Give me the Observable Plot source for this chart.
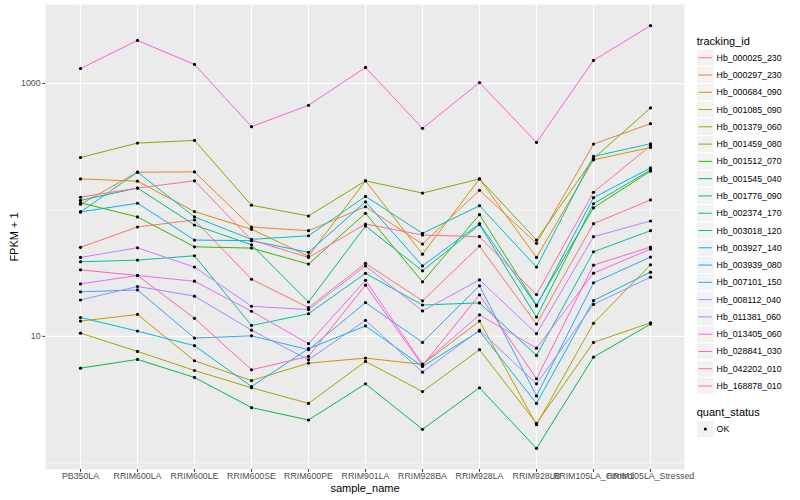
<!DOCTYPE html>
<html>
<head>
<meta charset="utf-8">
<script src="https://cdn.jsdelivr.net/npm/d3@7"></script>
<script src="https://cdn.jsdelivr.net/npm/@observablehq/plot@0.6"></script>
<style>
  html, body { margin: 0; padding: 0; background: #ffffff; }
  #wrap { position: relative; width: 800px; height: 500px; font-family: "Liberation Sans", Arial, Helvetica, sans-serif; }
  #chart { position: absolute; left: 0; top: 0; }
  #legend { position: absolute; left: 690px; top: 0; pointer-events: none; }
  g[aria-label="y-axis label"], g[aria-label="x-axis label"] { font-size: 11px; fill: #000000; }
</style>
</head>
<body>
<div id="wrap"><div id="chart"></div><div id="legend"></div></div>
<script>
const samples = ["PB350LA","RRIM600LA","RRIM600LE","RRIM600SE","RRIM600PE","RRIM901LA","RRIM928BA","RRIM928LA","RRIM928LB","RRIM105LA_Control","RRIM105LA_Stressed"];

const trackingIds = ["Hb_000025_230","Hb_000297_230","Hb_000684_090","Hb_001085_090","Hb_001379_060","Hb_001459_080","Hb_001512_070","Hb_001545_040","Hb_001776_090","Hb_002374_170","Hb_003018_120","Hb_003927_140","Hb_003939_080","Hb_007101_150","Hb_008112_040","Hb_011381_060","Hb_013405_060","Hb_028841_030","Hb_042202_010","Hb_168878_010"];

const idColors = ["#F8766D","#EA8331","#D89000","#C09B00","#A3A500","#7CAE00","#39B600","#00BB4E","#00BF7D","#00C1A3","#00BFC4","#00BAE0","#00B0F6","#35A2FF","#9590FF","#C77CFF","#E76BF3","#FA62DB","#FF62BC","#FF6C91"];

// FPKM + 1 per sample (order of `samples`)
const hb_000025_230 = [50.6, 73.3, 83.3, 28.3, 16.9, 37.8, 19.1, 51.8, 12.5, 77.9, 120];
const hb_000297_230 = [111, 199, 200, 73.3, 68.5, 106, 53.7, 143, 54.4, 332, 481];
const hb_000684_090 = [176, 169, 97, 70.3, 43.1, 170, 44.7, 176, 42.1, 249, 312];
const hb_001085_090 = [13.2, 14.9, 6.41, 4.47, 6.14, 6.73, 6.0, 13.2, 2.0, 12.7, 36.8];
const hb_001379_060 = [10.6, 7.6, 5.37, 3.92, 2.95, 6.33, 3.66, 7.84, 2.05, 8.96, 12.8];
const hb_001459_080 = [260, 338, 355, 109, 89.6, 170, 136, 176, 57.8, 255, 641];
const hb_001512_070 = [114, 88, 51.1, 49.9, 37.3, 94.1, 27.0, 91.8, 17.7, 104, 203];
const hb_001545_040 = [5.6, 6.57, 4.73, 2.73, 2.18, 4.21, 1.84, 3.92, 1.30, 6.85, 12.5];
const hb_001776_090 = [119, 149, 76, 53.0, 18.7, 74.6, 33.0, 76.4, 14.2, 112, 207];
const hb_002374_170 = [38.9, 40.1, 43.4, 12.2, 15.1, 31.5, 17.7, 18.4, 7.07, 46.7, 68.5];
const hb_003018_120 = [96.4, 199, 88, 58.5, 62.5, 128, 65.3, 108, 35.3, 265, 334];
const hb_003927_140 = [14.1, 11.0, 8.44, 4.01, 7.99, 12.1, 5.78, 11.0, 2.95, 19.2, 32.2];
const hb_003939_080 = [96.4, 113, 57.8, 57.1, 46.2, 116, 36.1, 77.9, 17.4, 125, 215];
const hb_007101_150 = [22.5, 23.3, 9.69, 10.1, 7.84, 18.5, 8.96, 25.1, 3.38, 26.5, 42.4];
const hb_008112_040 = [19.4, 24.8, 20.8, 11.2, 6.53, 13.4, 5.21, 11.2, 4.21, 17.9, 29.4];
const hb_011381_060 = [42.1, 50.2, 35.3, 17.3, 16.3, 36.1, 15.9, 28.0, 10.5, 61.4, 81.8];
const hb_013405_060 = [26.0, 30.3, 27.3, 15.8, 8.75, 27.8, 6.03, 14.8, 8.07, 31.6, 49.0];
const hb_028841_030 = [1315, 2193, 1416, 456, 673, 1340, 442, 1018, 342, 1524, 2871];
const hb_042202_010 = [33.6, 30.3, 13.9, 5.44, 6.94, 25.4, 5.89, 21.3, 4.62, 36.6, 50.9];
const hb_168878_010 = [126, 149, 170, 57.8, 42.1, 77.4, 63.3, 61.4, 21.4, 138, 322];

const quantStatus = ["OK"];
const yTicks = [10, 1000];
const yMinor = [1, 100];

const seriesValues = [hb_000025_230, hb_000297_230, hb_000684_090, hb_001085_090, hb_001379_060, hb_001459_080, hb_001512_070, hb_001545_040, hb_001776_090, hb_002374_170, hb_003018_120, hb_003927_140, hb_003939_080, hb_007101_150, hb_008112_040, hb_011381_060, hb_013405_060, hb_028841_030, hb_042202_010, hb_168878_010];

const data = trackingIds.flatMap((id, i) => seriesValues[i].map((v, j) => ({id, sample: samples[j], value: v, status: quantStatus[0]})));

// ggplot-like 5% expansion in log space
const lext = d3.extent(data, d => Math.log10(d.value));
const pad = (lext[1] - lext[0]) * 0.05;
const yDomain = [Math.pow(10, lext[0] - pad), Math.pow(10, lext[1] + pad)];

const chart = Plot.plot({
  width: 800,
  height: 500,
  marginLeft: 45,
  marginRight: 116,
  marginTop: 4,
  marginBottom: 31,
  style: {fontFamily: '"Liberation Sans", Arial, Helvetica, sans-serif', background: "#ffffff", overflow: "visible"},
  x: {type: "point", domain: samples, padding: 0.6},
  y: {type: "log", domain: yDomain},
  color: {domain: trackingIds, range: idColors},
  marks: [
    Plot.frame({fill: "#EBEBEB", stroke: "none"}),
    Plot.ruleY(yMinor, {stroke: "#ffffff", strokeWidth: 0.55}),
    Plot.ruleY(yTicks, {stroke: "#ffffff", strokeWidth: 1.1}),
    Plot.ruleX(samples, {stroke: "#ffffff", strokeWidth: 1.1}),
    Plot.line(data, {x: "sample", y: "value", z: "id", stroke: "id", strokeWidth: 1}),
    Plot.dot(data, {x: "sample", y: "value", r: 1.6, fill: "#000000", stroke: "none"}),
    Plot.axisX({tickSize: 2.7, tickPadding: 0.5, fontSize: 8.8, fill: "#4D4D4D", stroke: "#333333",
      label: "sample_name", labelAnchor: "center", labelOffset: 22, labelArrow: "none"}),
    Plot.axisY({ticks: yTicks, tickFormat: d => String(d), tickSize: 2.7, tickPadding: 2.2, fontSize: 8.8,
      fill: "#4D4D4D", stroke: "#333333", label: "FPKM + 1", labelAnchor: "center", labelOffset: 35, labelArrow: "none"})
  ]
});
document.getElementById("chart").appendChild(chart);

// Legend (ggplot-style, right side)
const lg = d3.select("#legend").append("svg")
  .attr("width", 110).attr("height", 445)
  .style("font-family", '"Liberation Sans", Arial, Helvetica, sans-serif');
const keyX = 6.7, keyW = 17.28, row0 = 57.7;
lg.append("text").attr("x", keyX).attr("y", 40.7).attr("dominant-baseline", "central")
  .attr("font-size", 11).attr("fill", "#000").text("tracking_id");
trackingIds.forEach((id, i) => {
  const cy = row0 + i * keyW;
  lg.append("rect").attr("x", keyX).attr("y", cy - keyW / 2).attr("width", keyW).attr("height", keyW)
    .attr("fill", "#F2F2F2").attr("stroke", "#ffffff").attr("stroke-width", 1);
  lg.append("line").attr("x1", keyX + 1.7).attr("x2", keyX + keyW - 1.7).attr("y1", cy).attr("y2", cy)
    .attr("stroke", idColors[i]).attr("stroke-width", 1);
  lg.append("text").attr("x", keyX + keyW + 2.6).attr("y", cy).attr("dominant-baseline", "central")
    .attr("font-size", 8.8).attr("fill", "#000").text(id);
});
lg.append("text").attr("x", keyX).attr("y", 412.3).attr("dominant-baseline", "central")
  .attr("font-size", 11).attr("fill", "#000").text("quant_status");
quantStatus.forEach((s, i) => {
  const cy = 429 + i * keyW;
  lg.append("rect").attr("x", keyX).attr("y", cy - keyW / 2).attr("width", keyW).attr("height", keyW)
    .attr("fill", "#F2F2F2").attr("stroke", "#ffffff").attr("stroke-width", 1);
  lg.append("circle").attr("cx", keyX + keyW / 2).attr("cy", cy).attr("r", 1.6).attr("fill", "#000");
  lg.append("text").attr("x", keyX + keyW + 2.6).attr("y", cy).attr("dominant-baseline", "central")
    .attr("font-size", 8.8).attr("fill", "#000").text(s);
});
</script>
</body>
</html>
